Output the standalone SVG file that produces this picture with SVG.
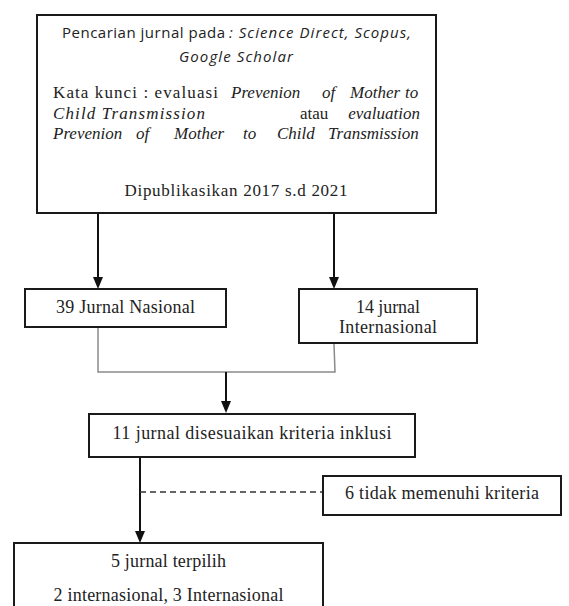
<svg xmlns="http://www.w3.org/2000/svg" width="569" height="606" viewBox="0 0 569 606">
<style>
  .box { fill: #ffffff; stroke: #1a1a1a; stroke-width: 2; }
  .serif { font-family: 'Liberation Serif', 'DejaVu Serif', 'Times New Roman', serif; font-size: 17px; fill: #222; }
  .big { font-size: 18px; }
  .sans { font-family: 'Open Sans', 'Noto Sans', 'Liberation Sans', sans-serif; font-size: 15px; fill: #222; }
  .it { font-style: italic; }
  .mid { text-anchor: middle; }
  .arrow { stroke: #111; stroke-width: 2; fill: none; }
  .merge { stroke: #8a8a8a; stroke-width: 1.5; fill: none; }
  .dash { stroke: #333; stroke-width: 1.5; stroke-dasharray: 6 4; fill: none; }
</style>
<defs>
  <marker id="head" viewBox="0 0 12 10" refX="8" refY="5" markerWidth="12" markerHeight="10" markerUnits="userSpaceOnUse" orient="auto">
    <path d="M0,0 L12,5 L0,10 Z" fill="#111"/>
  </marker>
</defs>

<g id="connectors">
  <line class="arrow" x1="98" y1="214" x2="98" y2="285" marker-end="url(#head)"/>
  <line class="arrow" x1="334" y1="214" x2="334" y2="285" marker-end="url(#head)"/>
  <polyline class="merge" points="98,328 98,372 335,372 334,344"/>
  <line class="arrow" x1="226" y1="372" x2="226" y2="409" marker-end="url(#head)"/>
  <line class="arrow" x1="140" y1="458" x2="140" y2="539" marker-end="url(#head)"/>
  <line class="dash" x1="140" y1="492" x2="322" y2="492"/>
</g>

<g id="search">
  <rect class="box" x="37" y="15" width="399" height="198"/>
  <text class="sans" x="62" y="38" textLength="163">Pencarian jurnal pada</text>
  <text class="sans it" x="229" y="38" textLength="182">: Science Direct, Scopus,</text>
  <text class="sans it mid" x="236" y="62" textLength="114">Google Scholar</text>
  <text class="serif" x="53" y="98" textLength="165">Kata kunci : evaluasi</text>
  <text class="serif it" y="98"><tspan x="231">Prevenion</tspan><tspan x="322">of</tspan><tspan x="350">Mother</tspan><tspan x="405">to</tspan></text>
  <text class="serif it" x="53" y="119" textLength="152">Child Transmission</text>
  <text class="serif" x="300" y="119">atau</text>
  <text class="serif it" x="420" y="119" text-anchor="end">evaluation</text>
  <text class="serif it" y="139"><tspan x="53">Prevenion</tspan><tspan x="136">of</tspan><tspan x="174">Mother</tspan><tspan x="243">to</tspan><tspan x="277">Child</tspan><tspan x="328">Transmission</tspan></text>
  <text class="serif mid" x="236" y="196" textLength="223">Dipublikasikan 2017 s.d 2021</text>
</g>

<g id="nasional">
  <rect class="box" x="25" y="289" width="201" height="38"/>
  <text class="serif big mid" x="125.5" y="313" textLength="139">39 Jurnal Nasional</text>
</g>

<g id="internasional">
  <rect class="box" x="299" y="289" width="178" height="54"/>
  <text class="serif big mid" x="388" y="313" textLength="64">14 jurnal</text>
  <text class="serif big mid" x="388" y="333" textLength="98">Internasional</text>
</g>

<g id="inklusi">
  <rect class="box" x="89" y="414" width="326" height="43"/>
  <text class="serif big mid" x="252" y="439" textLength="279">11  jurnal disesuaikan kriteria inklusi</text>
</g>

<g id="excluded">
  <rect class="box" x="323" y="476" width="238" height="39"/>
  <text class="serif big mid" x="442" y="499" textLength="194">6 tidak memenuhi kriteria</text>
</g>

<g id="selected">
  <rect class="box" x="14" y="543" width="309" height="75"/>
  <text class="serif big mid" x="168.5" y="567" textLength="115">5 jurnal terpilih</text>
  <text class="serif big mid" x="168.5" y="601" textLength="230">2 internasional, 3 Internasional</text>
</g>
</svg>
